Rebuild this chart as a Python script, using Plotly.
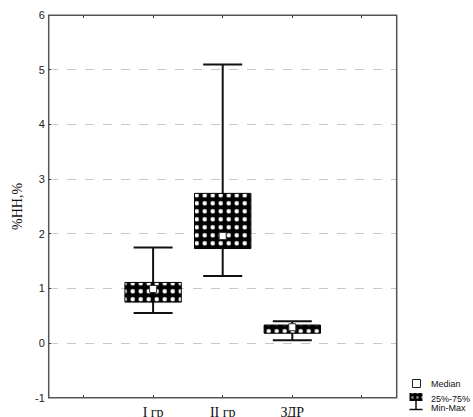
import plotly.graph_objects as go

# ---- data ----
groups = ["I гр", "II гр", "ЗДР"]
group_pos = [1, 2, 3]
mins = [0.55, 1.23, 0.05]
q1 = [0.75, 1.73, 0.18]
medians = [0.99, 1.96, 0.29]
q3 = [1.11, 2.74, 0.33]
maxs = [1.75, 5.10, 0.40]
y_ticks = [-1, 0, 1, 2, 3, 4, 5, 6]
y_ticktext = ["-1", "0", "1", "2", "3", "4", "5", "6"]
x_ticks = [0, 1, 2, 3, 4]
x_ticktext = ["", "I гр", "II гр", "ЗДР", ""]
legend_labels = ["Median", "25%-75%", "Min-Max"]

W, H = 473, 417
# plot-area placement in px
PL, PR, PT, PB = 48.7, 396.7, 15.3, 397.7

fig = go.Figure()

# whiskers (drawn below boxes)
fig.add_trace(go.Scatter(
    x=group_pos, y=medians, mode="markers",
    marker=dict(size=1, color="rgba(0,0,0,0)"),
    error_y=dict(type="data", symmetric=False,
                 array=[mx - m for mx, m in zip(maxs, medians)],
                 arrayminus=[m - mn for m, mn in zip(medians, mins)],
                 color="#111", thickness=2, width=19.5),
    zorder=0, showlegend=False, hoverinfo="skip"))

# boxes 25%-75%
fig.add_trace(go.Bar(
    x=group_pos, y=[b - a for a, b in zip(q1, q3)], base=q1, width=0.81,
    marker=dict(color="black", line=dict(color="black", width=1),
                pattern=dict(shape=".", fgcolor="white", bgcolor="black",
                             size=8, solidity=0.25, fillmode="replace")),
    zorder=1, showlegend=False, hoverinfo="skip"))

# medians
fig.add_trace(go.Scatter(
    x=group_pos, y=medians, mode="markers",
    marker=dict(symbol="square", size=7, color="white",
                line=dict(color="#333", width=1)),
    zorder=2, showlegend=False, hoverinfo="skip"))

# ---- legend glyphs on a small helper axis (px units) ----
LX0, LX1, LY0, LY1 = 400, 430, 375, 415
fig.add_trace(go.Scatter(
    x=[416.5], y=[383.5], mode="markers", xaxis="x2", yaxis="y2",
    marker=dict(symbol="square-open", size=8, color="#222", line=dict(width=1)),
    showlegend=False, hoverinfo="skip", cliponaxis=False))
fig.add_trace(go.Bar(
    x=[416], y=[8], base=[393], width=[13], xaxis="x2", yaxis="y2",
    marker=dict(color="black", line=dict(width=0),
                pattern=dict(shape=".", fgcolor="white", bgcolor="black",
                             size=5, solidity=0.25)),
    showlegend=False, hoverinfo="skip", cliponaxis=False))
fig.add_trace(go.Scatter(
    x=[416, 416, None, 409.5, 422.5], y=[401, 409.5, None, 409.5, 409.5],
    mode="lines", xaxis="x2", yaxis="y2",
    line=dict(color="#111", width=1.5),
    showlegend=False, hoverinfo="skip", cliponaxis=False))

legend_y = [384, 398.5, 407.5]
annotations = []
for lab, ly in zip(legend_labels, legend_y):
    annotations.append(dict(text=lab, x=429 / W, y=1 - ly / H, xref="paper", yref="paper",
                            xanchor="left", yanchor="middle", showarrow=False,
                            font=dict(family="Liberation Sans, Arial", size=9, color="#111")))
annotations.append(dict(text="%НН,%", x=17 / W, y=1 - 207 / H, xref="paper", yref="paper",
                        textangle=-90, showarrow=False, xanchor="center", yanchor="middle",
                        font=dict(family="Liberation Serif, Times New Roman", size=14, color="#111")))

axis_line = "#555"
shapes = [dict(type="rect", xref="x domain", yref="y domain", x0=0, x1=1, y0=0, y1=1,
               line=dict(color=axis_line, width=1.5), fillcolor="rgba(0,0,0,0)", layer="above")]

fig.update_layout(
    width=W, height=H,
    margin=dict(l=0, r=0, t=0, b=0, autoexpand=False),
    paper_bgcolor="white", plot_bgcolor="white",
    barmode="overlay",
    showlegend=False,
    annotations=annotations,
    shapes=shapes,
    xaxis=dict(domain=[PL / W, PR / W], range=[-0.5, 4.5], automargin=False,
               tickvals=x_ticks, ticktext=x_ticktext,
               ticks="inside", ticklen=3, tickwidth=1, tickcolor="#333",
               showline=True, linecolor=axis_line, linewidth=1.5, mirror="ticks",
               showgrid=False, zeroline=False, fixedrange=True,
               ticklabelstandoff=1,
               tickfont=dict(family="Liberation Serif, Times New Roman", size=14, color="#111")),
    yaxis=dict(domain=[1 - PB / H, 1 - PT / H], range=[-1, 6], automargin=False,
               tickvals=y_ticks, ticktext=y_ticktext,
               ticks="inside", ticklen=3, tickwidth=1, tickcolor="#333",
               showline=True, linecolor=axis_line, linewidth=1.5, mirror=True,
               showgrid=True, gridcolor="#c8c8c8", griddash="dash", gridwidth=1,
               zeroline=False, fixedrange=True,
               tickfont=dict(family="Liberation Sans, Arial", size=11, color="#222")),
    xaxis2=dict(domain=[LX0 / W, LX1 / W], range=[LX0, LX1], visible=False,
                anchor="y2", fixedrange=True, automargin=False),
    yaxis2=dict(domain=[1 - LY1 / H, 1 - LY0 / H], range=[LY1, LY0], visible=False,
                anchor="x2", fixedrange=True, automargin=False),
)

fig.write_html("out.html")
